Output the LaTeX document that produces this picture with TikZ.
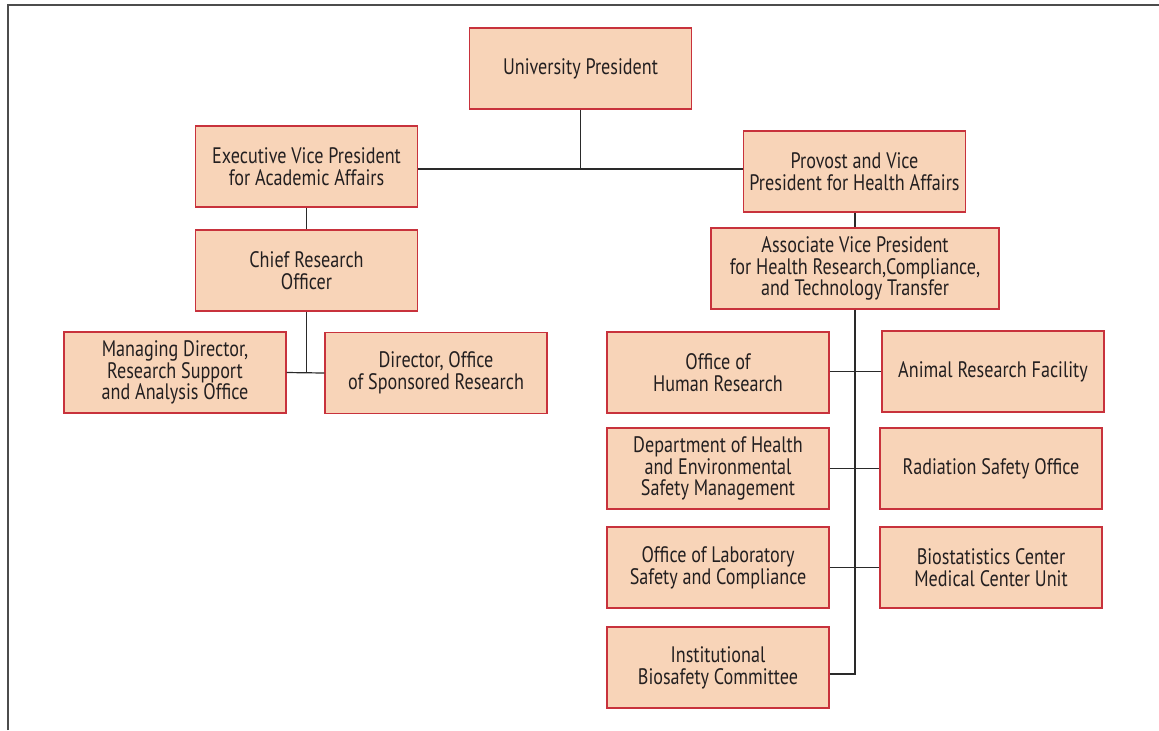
\documentclass[tikz,border=0pt]{standalone}
\usepackage{fontspec}
\setmainfont[FakeStretch=0.81]{PT Sans}
\definecolor{boxfill}{HTML}{F8D4B8}
\definecolor{boxdraw}{HTML}{C8323C}
\definecolor{txt}{HTML}{231F20}
\definecolor{lin}{HTML}{2A2A2A}
\begin{document}
\begin{tikzpicture}[x=0.5pt,y=-0.5pt,
  orgbox/.style={draw=boxdraw,fill=boxfill,line width=0.6pt,minimum width=111pt,minimum height=40.5pt,
    inner sep=0pt,align=center,text=txt,font=\fontsize{11.2}{10.9}\selectfont},
  wide/.style={minimum width=144pt},
  conn/.style={draw=lin,line width=0.6pt}]
\useasboundingbox (0,0) rectangle (1159,730);
\draw[line width=1pt,gray!60!black] (8,730) -- (8,5) -- (1159,5);
\node[orgbox] (pres) at (580.5,68.5) {University President};
\node[orgbox] (evp) at (306.5,166.5) {Executive Vice President\\for Academic Affairs};
\node[orgbox] (prov) at (854.5,171.5) {Provost and Vice\\President for Health Affairs};
\node[orgbox] (cro) at (306.5,270.5) {Chief Research\\Officer};
\node[orgbox,wide] (avp) at (855,268.5) {Associate Vice President\\for Health Research,Compliance,\\and Technology Transfer};
\node[orgbox] (mdr) at (175,372.5) {Managing Director,\\Research Support\\and Analysis Office};
\node[orgbox] (dos) at (436,373) {Director, Office\\of Sponsored Research};
\node[orgbox] (ohr) at (718,372.5) {Office of\\Human Research};
\node[orgbox] (arf) at (993,371.5) {Animal Research Facility};
\node[orgbox] (dhe) at (718,468.5) {Department of Health\\and Environmental\\Safety Management};
\node[orgbox] (rso) at (991,468.5) {Radiation Safety Office};
\node[orgbox] (lab) at (718,567.5) {Office of Laboratory\\Safety and Compliance};
\node[orgbox] (bio) at (991,567.5) {Biostatistics Center\\Medical Center Unit};
\node[orgbox] (ibc) at (718,667.5) {Institutional\\Biosafety Committee};
\coordinate (j1) at (580.5,169);
\coordinate (sp) at (855,674);
\draw[conn] (pres.south) -- (j1);
\draw[conn] (evp.east |- j1) -- (prov.west |- j1);
\draw[conn] (evp.south) -- (cro.north);
\draw[conn] (prov.south -| avp.north) -- (avp.north);
\draw[conn] (cro.south) -- (cro.south |- dos.west);
\draw[conn] (mdr.east) -- (dos.west);
\draw[conn] (avp.south) -- (sp) -- (ibc.east |- sp);
\draw[conn] (ohr.east |- arf.west) -- (arf.west);
\draw[conn] (dhe.east) -- (rso.west);
\draw[conn] (lab.east) -- (bio.west);
\end{tikzpicture}
\end{document}
